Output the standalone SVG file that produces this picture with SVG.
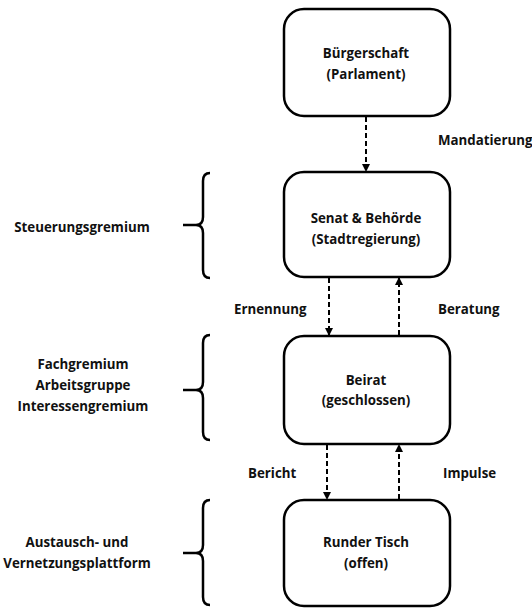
<svg xmlns="http://www.w3.org/2000/svg" width="532" height="608" viewBox="0 0 532 608">
<defs>
<marker id="ah" markerWidth="8" markerHeight="8" refX="7" refY="4" orient="auto" markerUnits="userSpaceOnUse">
<path d="M0,0 L8,4 L0,8 Z" fill="#000"/>
</marker>
<style>
.box{fill:#fff;stroke:#000;stroke-width:2.5}
.t{font-family:"Open Sans","Noto Sans",sans-serif;font-weight:700;font-size:13.3px;fill:#111;text-anchor:middle}
.l{font-family:"Open Sans","Noto Sans",sans-serif;font-weight:700;font-size:13.3px;fill:#111}
.c{fill:none;stroke:#000;stroke-width:2;stroke-dasharray:5 3}
.br{fill:none;stroke:#000;stroke-width:2.5}
</style>
</defs>
<rect width="532" height="608" fill="#fff"/>
<g id="connectors">
<line class="c" x1="366" y1="117" x2="366" y2="171" marker-end="url(#ah)"/>
<line class="c" x1="329" y1="278" x2="329" y2="335" marker-end="url(#ah)"/>
<line class="c" x1="399" y1="335" x2="399" y2="278" marker-end="url(#ah)"/>
<line class="c" x1="327" y1="445" x2="327" y2="499" marker-end="url(#ah)"/>
<line class="c" x1="399" y1="499" x2="399" y2="445" marker-end="url(#ah)"/>
<text class="l" x="438" y="145">Mandatierung</text>
<text class="l" x="234" y="314">Ernennung</text>
<text class="l" x="438" y="314">Beratung</text>
<text class="l" x="248" y="478">Bericht</text>
<text class="l" x="443" y="478">Impulse</text>
</g>
<g id="buergerschaft">
<rect class="box" x="284" y="9" width="166" height="107" rx="20"/>
<text class="t" x="366" y="58">Bürgerschaft</text>
<text class="t" x="366" y="79">(Parlament)</text>
</g>
<g id="senat">
<rect class="box" x="284" y="172" width="166" height="105" rx="20"/>
<text class="t" x="366" y="223">Senat &amp; Behörde</text>
<text class="t" x="366" y="244">(Stadtregierung)</text>
</g>
<g id="beirat">
<rect class="box" x="284" y="336" width="166" height="108" rx="20"/>
<text class="t" x="366" y="385">Beirat</text>
<text class="t" x="366" y="405">(geschlossen)</text>
</g>
<g id="runder-tisch">
<rect class="box" x="284" y="500" width="166" height="106" rx="20"/>
<text class="t" x="366" y="547">Runder Tisch</text>
<text class="t" x="366" y="568">(offen)</text>
</g>
<g id="brace-steuerung">
<path class="br" d="M210,173 Q203,173 203,181 L203,217 Q203,225 196,225 L183,225 M196,225 Q203,225 203,233 L203,270 Q203,278 210,278"/>
<text class="t" x="82" y="232">Steuerungsgremium</text>
</g>
<g id="brace-fach">
<path class="br" d="M210,335 Q203,335 203,343 L203,382 Q203,390 196,390 L183,390 M196,390 Q203,390 203,398 L203,432 Q203,440 210,440"/>
<text class="t" x="83" y="369">Fachgremium</text>
<text class="t" x="83" y="390">Arbeitsgruppe</text>
<text class="t" x="83" y="411">Interessengremium</text>
</g>
<g id="brace-austausch">
<path class="br" d="M210,500 Q203,500 203,508 L203,545 Q203,553 196,553 L183,553 M196,553 Q203,553 203,561 L203,597 Q203,605 210,605"/>
<text class="t" x="77" y="547">Austausch- und</text>
<text class="t" x="77" y="568">Vernetzungsplattform</text>
</g>
</svg>
